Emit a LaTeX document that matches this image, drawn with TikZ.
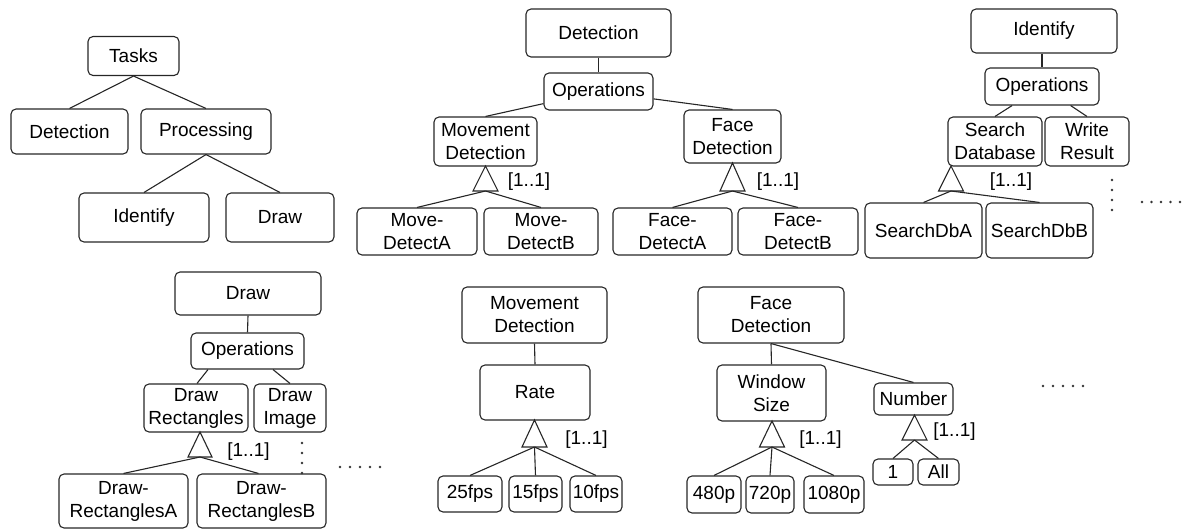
\documentclass[tikz,border=0pt]{standalone}
\usepackage{fontspec}
\setmainfont{Liberation Sans}
\usetikzlibrary{calc}
\begin{document}
\begin{tikzpicture}[x=1pt,y=-1pt,
  box/.style={draw=black!85, line width=1.1pt, rounded corners=5pt, align=center, inner sep=0pt,
    font=\fontsize{19}{23}\selectfont},
  lbl/.style={inner sep=0pt, font=\fontsize{19}{23}\selectfont},
  conn/.style={draw=black!85, line width=1.1pt},
  tri/.style={draw=black!85, line width=1.1pt, line join=miter}]
\useasboundingbox (0,0) rectangle (1184,530);

% ---------- Tree 1: Tasks ----------
\node[box, minimum width=91pt, minimum height=39pt] (tasks) at (133.5,56) {Tasks};
\node[box, minimum width=117pt, minimum height=45pt] (det1) at (69.5,131.5) {Detection};
\node[box, minimum width=130pt, minimum height=45pt] (proc) at (206,131.5) {Processing};
\node[box, minimum width=130pt, minimum height=49pt] (ident1) at (144,217.5) {Identify};
\node[box, minimum width=108pt, minimum height=49pt] (draw1) at (280,217.5) {Draw};
\draw[conn] (tasks.south) -- (det1.north);
\draw[conn] (tasks.south) -- (proc.north);
\draw[conn] (proc.south) -- (ident1.north);
\draw[conn] (proc.south) -- (draw1.north);

% ---------- Tree 2: Detection ----------
\node[box, minimum width=145pt, minimum height=48pt] (det2) at (598.5,33) {Detection};
\node[box, minimum width=109pt, minimum height=37pt] (ops2) at (598.5,91.5) {Operations};
\node[box, minimum width=103pt, minimum height=49pt] (md2) at (485.5,141.5) {Movement\\Detection};
\node[box, minimum width=97pt, minimum height=53pt] (fd2) at (732.5,136.5) {Face\\Detection};
\node[box, minimum width=120pt, minimum height=47pt] (mda) at (417,231.5) {Move-\\DetectA};
\node[box, minimum width=114pt, minimum height=47pt] (mdb) at (541,231.5) {Move-\\DetectB};
\node[box, minimum width=119pt, minimum height=47pt] (fda) at (672.5,231.5) {Face-\\DetectA};
\node[box, minimum width=120pt, minimum height=47pt] (fdb) at (798,231.5) {Face-\\DetectB};
\draw[conn] (det2.south) -- (ops2.north);
\draw[conn] (ops2) -- (md2.north);
\draw[conn] (ops2) -- (fd2.north);
\coordinate (tmd) at (485.5,166);
\coordinate (tmdb) at (485.5,191);
\draw[tri] (tmd) -- ++(-12.5,25) -- ++(25,0) -- cycle;
\node[lbl] (lmd) at (529,182) {[1..1]};
\draw[conn] (tmdb) -- (mda.north);
\draw[conn] (tmdb) -- (mdb.north);
\coordinate (tfd) at (732.5,163);
\coordinate (tfdb) at (732.5,191);
\draw[tri] (tfd) -- ++(-12.5,28) -- ++(25,0) -- cycle;
\node[lbl] (lfd) at (778,182) {[1..1]};
\draw[conn] (tfdb) -- (fda.north);
\draw[conn] (tfdb) -- (fdb.north);

% ---------- Tree 3: Identify ----------
\node[box, minimum width=146pt, minimum height=44pt] (id3) at (1044,31) {Identify};
\node[box, minimum width=114pt, minimum height=37pt] (ops3) at (1042,86.5) {Operations};
\node[box, minimum width=94pt, minimum height=49pt] (sd3) at (995,141.5) {Search\\Database};
\node[box, minimum width=84pt, minimum height=49pt] (wr3) at (1087,141.5) {Write\\Result};
\node[box, minimum width=117pt, minimum height=55pt] (sda) at (923.5,230.5) {SearchDbA};
\node[box, minimum width=107pt, minimum height=55pt] (sdb) at (1039.5,230.5) {SearchDbB};
\draw[conn] (id3.south -| ops3.north) -- (ops3.north);
\draw[conn] (ops3) -- (sd3.north);
\draw[conn] (ops3) -- (wr3.north);
\coordinate (tsd) at (951,166);
\coordinate (tsdb) at (951,191);
\draw[tri] (tsd) -- ++(-12.5,25) -- ++(25,0) -- cycle;
\node[lbl] (lsd) at (1011,182) {[1..1]};
\draw[conn] (tsdb) -- (sda.north);
\draw[conn] (tsdb) -- (sdb.north);
\foreach \i in {0,...,3} \fill[black!80] (1112,180+\i*10) circle (1.3);
\foreach \i in {0,...,4} \fill[black!80] (1142+\i*9.5,202) circle (1.3);

% ---------- Tree 4: Draw ----------
\node[box, minimum width=146pt, minimum height=43pt] (draw4) at (248,293.5) {Draw};
\node[box, minimum width=113pt, minimum height=36pt] (ops4) at (247.5,351) {Operations};
\node[box, minimum width=104pt, minimum height=48pt] (dr4) at (196,408) {Draw\\Rectangles};
\node[box, minimum width=72pt, minimum height=48pt] (di4) at (290,408) {Draw\\Image};
\node[box, minimum width=129pt, minimum height=54pt] (dra) at (123.5,501) {Draw-\\RectanglesA};
\node[box, minimum width=129pt, minimum height=54pt] (drb) at (261.5,501) {Draw-\\RectanglesB};
\draw[conn] (draw4.south) -- (ops4.north);
\draw[conn] ($(ops4.south)+(-39.5,0)$) -- ($(dr4.north)+(1,0)$);
\draw[conn] ($(ops4.south)+(25.5,0)$) -- (di4.north);
\coordinate (tdr) at (200,432);
\coordinate (tdrb) at (200,457);
\draw[tri] (tdr) -- ++(-12,25) -- ++(24,0) -- cycle;
\node[lbl] (ldr) at (248.5,452) {[1..1]};
\draw[conn] (tdrb) -- (dra.north);
\draw[conn] (tdrb) -- ($(drb.north)+(-3,0)$);
\foreach \i in {0,...,3} \fill[black!80] (302,443+\i*10) circle (1.3);
\foreach \i in {0,...,4} \fill[black!80] (340+\i*10,467) circle (1.3);

% ---------- Tree 5: Movement Detection ----------
\node[box, minimum width=145pt, minimum height=56pt] (md5) at (534.5,315) {Movement\\Detection};
\node[box, minimum width=110pt, minimum height=55pt] (rate) at (535,392.5) {Rate};
\node[box, minimum width=64pt, minimum height=36pt] (f25) at (470,494) {25fps};
\node[box, minimum width=53pt, minimum height=36pt] (f15) at (535.5,494) {15fps};
\node[box, minimum width=52pt, minimum height=36pt] (f10) at (596,494) {10fps};
\draw[conn] (md5.south) -- (rate.north);
\coordinate (trt) at (534.5,420);
\coordinate (trtb) at (534.5,447);
\draw[tri] (trt) -- ++(-12.5,27) -- ++(25,0) -- cycle;
\node[lbl] (lrt) at (586.5,440) {[1..1]};
\draw[conn] (trtb) -- (f25.north);
\draw[conn] (trtb) -- (f15.north);
\draw[conn] (trtb) -- (f10.north);

% ---------- Tree 6: Face Detection ----------
\node[box, minimum width=146pt, minimum height=56pt] (fd6) at (771,315) {Face\\Detection};
\node[box, minimum width=109pt, minimum height=56pt] (ws) at (771.5,393) {Window\\Size};
\node[box, minimum width=54pt, minimum height=37pt] (p480) at (714,494.5) {480p};
\node[box, minimum width=48pt, minimum height=37pt] (p720) at (770,494.5) {720p};
\node[box, minimum width=60pt, minimum height=37pt] (p1080) at (834,494.5) {1080p};
\node[box, minimum width=79pt, minimum height=32pt] (num) at (913.5,399) {Number};
\node[box, minimum width=40pt, minimum height=26pt] (one) at (893,472) {1};
\node[box, minimum width=41pt, minimum height=26pt] (all) at (938.5,472) {All};
\draw[conn] (fd6.south) -- (ws.north);
\draw[conn] (fd6.south) -- (num.north);
\coordinate (tws) at (772,421);
\coordinate (twsb) at (772,447);
\draw[tri] (tws) -- ++(-12.5,26) -- ++(25,0) -- cycle;
\node[lbl] (lws) at (820.5,440) {[1..1]};
\draw[conn] (twsb) -- (p480.north);
\draw[conn] (twsb) -- (p720.north);
\draw[conn] (twsb) -- (p1080.north);
\coordinate (tnm) at (914.5,415);
\coordinate (tnmb) at (914.5,440);
\draw[tri] (tnm) -- ++(-12.5,25) -- ++(25,0) -- cycle;
\node[lbl] (lnm) at (954.5,432) {[1..1]};
\draw[conn] (tnmb) -- (one.north);
\draw[conn] (tnmb) -- (all.north);
\foreach \i in {0,...,4} \fill[black!80] (1043+\i*10,386) circle (1.3);
\end{tikzpicture}
\end{document}
